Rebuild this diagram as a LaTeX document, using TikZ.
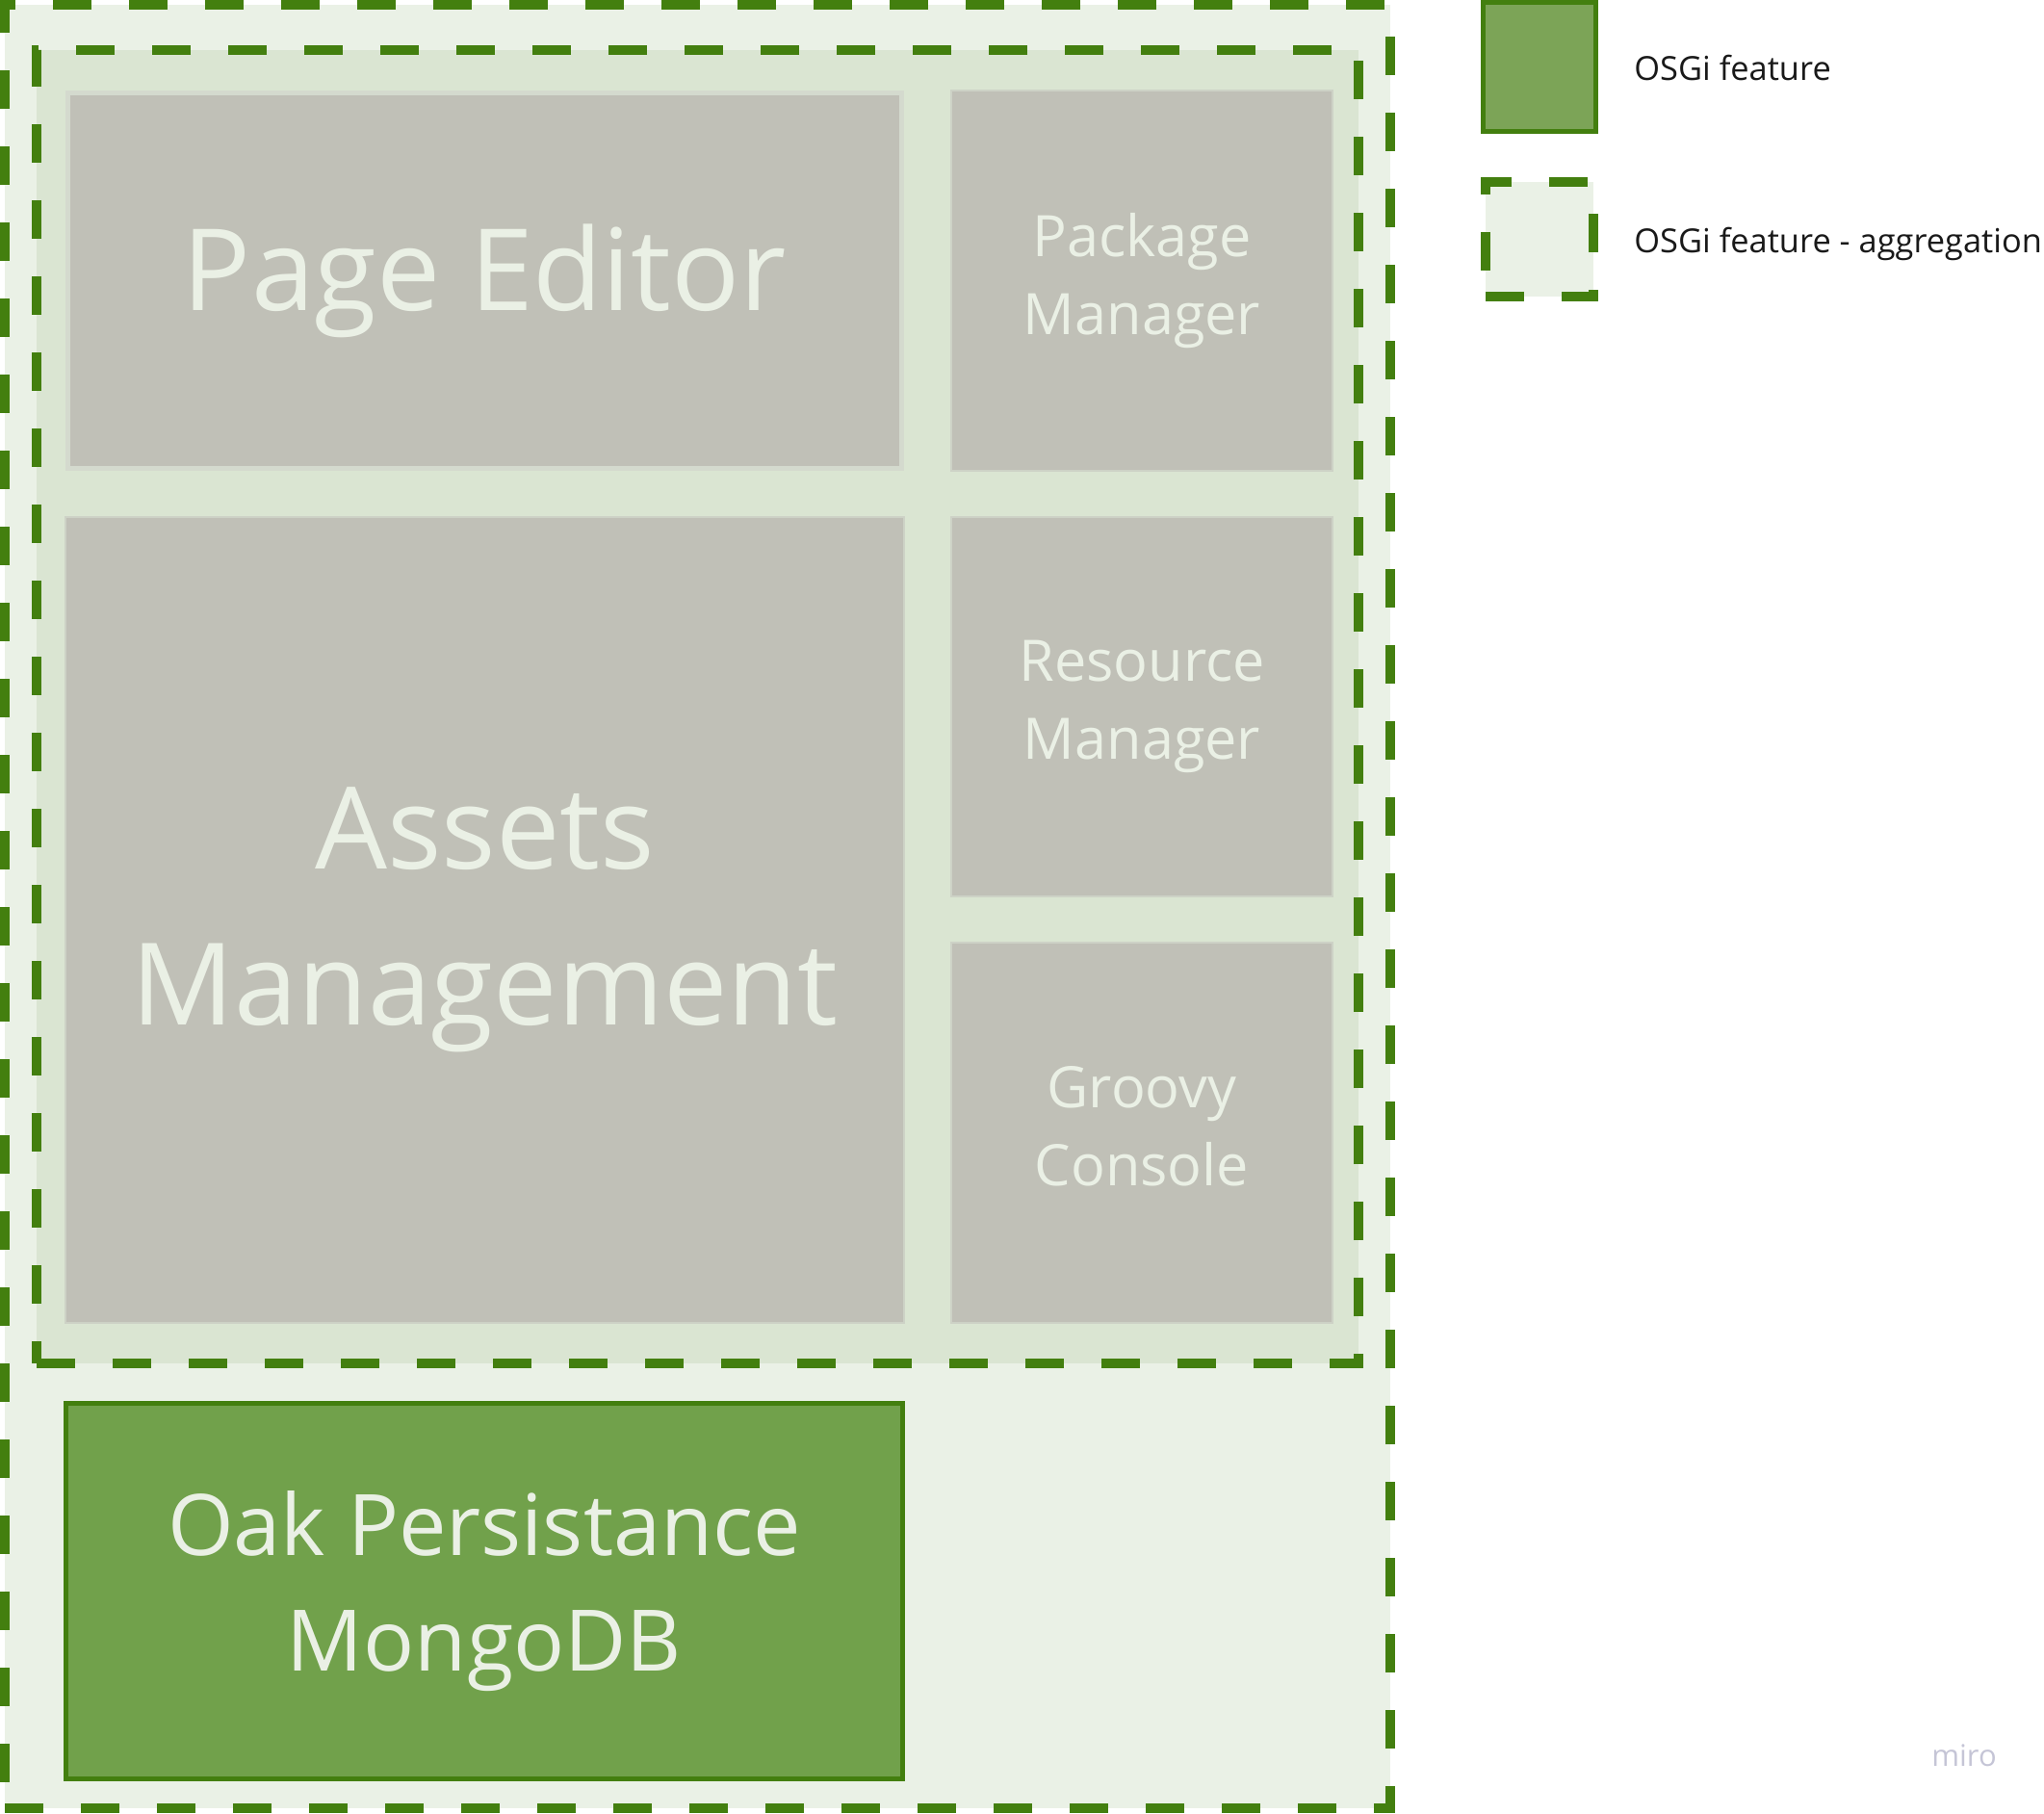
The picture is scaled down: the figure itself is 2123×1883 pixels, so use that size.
\documentclass[tikz,border=0pt]{standalone}
\usepackage{fontspec}
\setmainfont{Open Sans}
\definecolor{dgreen}{HTML}{437F0F}
\definecolor{outerfill}{HTML}{EAF1E6}
\definecolor{innerfill}{HTML}{DAE5D2}
\definecolor{greybox}{HTML}{C0C0B7}
\definecolor{greyedge}{HTML}{CDD2C6}
\definecolor{peedge}{HTML}{D4DACE}
\definecolor{oakfill}{HTML}{71A14B}
\definecolor{legfill}{HTML}{7CA457}
\definecolor{lighttext}{HTML}{EAF0E5}
\definecolor{mirogrey}{HTML}{C5C5D6}
\tikzset{
  aggbox/.style={draw=dgreen, line width=5pt, dash pattern=on 20pt off 19.5pt, line cap=butt, inner sep=0pt},
  featbox/.style={draw=greyedge, fill=greybox, line width=0.75pt, inner sep=0pt, align=center, text=lighttext},
  osgibox/.style={draw=dgreen, fill=oakfill, line width=2.5pt, inner sep=0pt, align=center, text=lighttext},
  legtext/.style={anchor=west, inner sep=0pt, text=black!90, font=\fontsize{17.2}{23}\selectfont}
}
\begin{document}
\begin{tikzpicture}[x=0.5pt,y=-0.5pt]
\useasboundingbox (0,0) rectangle (2123,1883);
% outer aggregation
\node[aggbox, fill=outerfill, minimum width=719.5pt, minimum height=936.5pt] (outer) at (724.5,941.5) {};
% inner aggregation
\node[aggbox, fill=innerfill, minimum width=686.5pt, minimum height=682pt] (inner) at (724.5,734) {};
% feature boxes
\node[featbox, draw=peedge, line width=2.5pt, minimum width=433pt, minimum height=195pt,
      font=\fontsize{59}{80}\selectfont] (pe) at (503.5,291.5) {Page Editor};
\node[featbox, minimum width=198pt, minimum height=197.5pt,
      font=\fontsize{29.7}{40.5}\selectfont] (pm) at (1186,291.5) {Package\\Manager};
\node[featbox, minimum width=435.5pt, minimum height=418.5pt,
      font=\fontsize{59.2}{81}\selectfont] (am) at (503.5,955.5) {Assets\\Management};
\node[featbox, minimum width=198pt, minimum height=197pt,
      font=\fontsize{29.7}{40.5}\selectfont] (rm) at (1186,734) {Resource\\Manager};
\node[featbox, minimum width=198pt, minimum height=197.5pt] (gc) at (1186,1176.5) {};
\node[align=center, inner sep=0pt, text=lighttext, font=\fontsize{29.7}{40.5}\selectfont] (gct) at (1186,1170) {Groovy\\Console};
\node[osgibox, minimum width=434.5pt, minimum height=195pt,
      font=\fontsize{44.1}{60}\selectfont] (oak) at (503,1652.5) {Oak Persistance\\MongoDB};
% legend
\node[osgibox, fill=legfill, minimum width=58.5pt, minimum height=67pt] (leg1) at (1599,69.5) {};
\node[aggbox, fill=outerfill, minimum width=56pt, minimum height=59.5pt] (leg2) at (1599,248.5) {};
\node[legtext] (leg1t) at (1697,70.5) {OSGi feature};
\node[legtext] (leg2t) at (1697,253) {OSGi feature - aggregation};
% watermark
\node[inner sep=0pt, text=mirogrey, font=\fontsize{15.5}{18}\selectfont] (miro) at (2040,1823) {miro};
\end{tikzpicture}
\end{document}
